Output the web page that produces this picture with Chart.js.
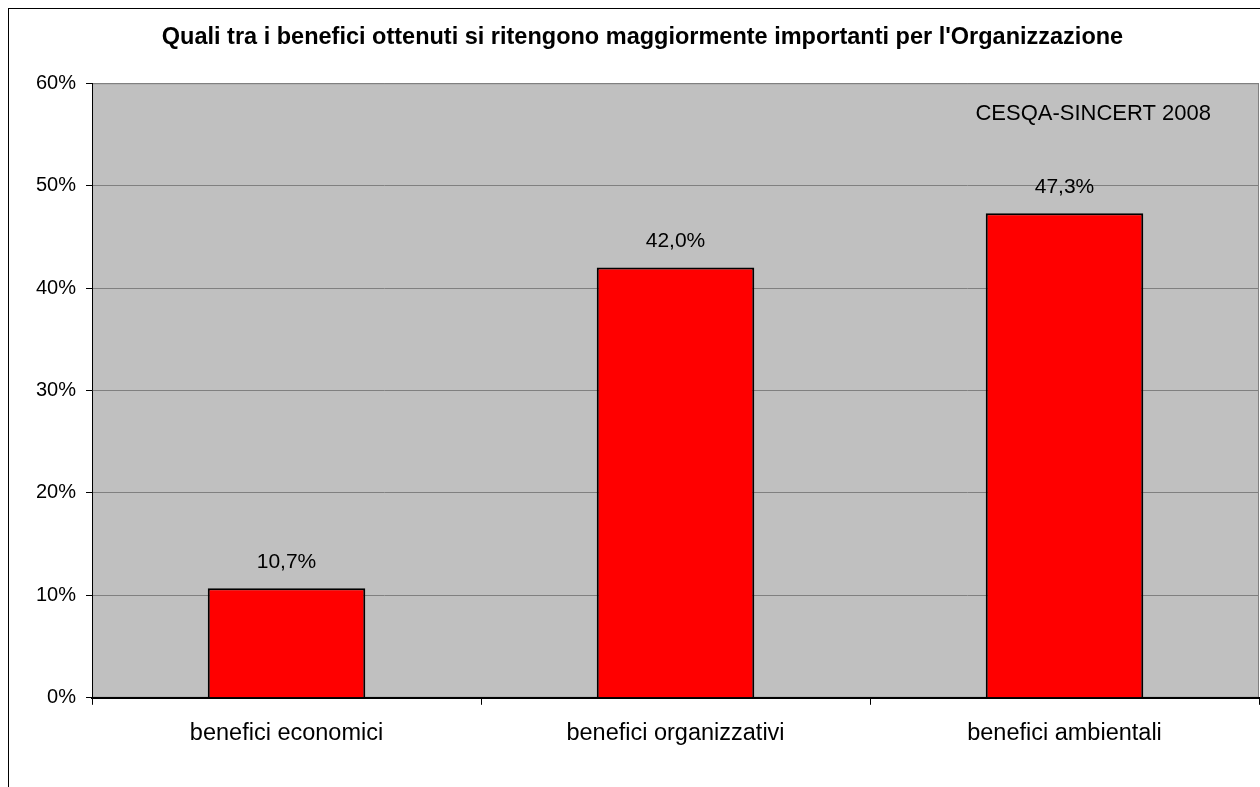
<!DOCTYPE html>
<html>
<head>
<meta charset="utf-8">
<script src="https://cdn.jsdelivr.net/npm/chart.js@4"></script>
<style>
  body { margin: 0; background: #fff; }
  #wrap { width: 1260px; height: 787px; }
</style>
</head>
<body>
<div id="wrap"><canvas id="mygraph" width="1260" height="787"></canvas></div>
<script>
const categories = ["benefici economici", "benefici organizzativi", "benefici ambientali"];
const values = [10.7, 42.0, 47.3];
const yTicks = [0, 10, 20, 30, 40, 50, 60];
const chartTitle = "Quali tra i benefici ottenuti si ritengono maggiormente importanti per l'Organizzazione";
const sourceNote = "CESQA-SINCERT 2008";

const FONT = "'Liberation Sans', Arial, sans-serif";

// grey plot background + outer frame + source note
const decor = {
  id: "decor",
  beforeDraw(chart) {
    const c = chart.ctx, a = chart.chartArea;
    c.save();
    c.fillStyle = "#ffffff";
    c.fillRect(0, 0, chart.width, chart.height);
    c.strokeStyle = "#000000";
    c.lineWidth = 1;
    c.strokeRect(8.5, 8.5, chart.width + 20, chart.height + 20);
    c.fillStyle = "#c0c0c0";
    c.fillRect(a.left, a.top, a.right - a.left, a.bottom - a.top);
    c.strokeStyle = "#808080";
    c.strokeRect(a.left + 0.5, a.top + 0.5, a.right - a.left - 1, a.bottom - a.top - 1);
    c.restore();
  },
  afterDatasetsDraw(chart) {
    const c = chart.ctx, a = chart.chartArea;
    c.save();
    c.fillStyle = "#000";
    c.font = "22px " + FONT;
    c.textBaseline = "middle";
    c.textAlign = "right";
    c.fillText(sourceNote, a.right - 48, a.top + 31);
    // value labels over the bars
    c.font = "21px " + FONT;
    c.textAlign = "center";
    chart.getDatasetMeta(0).data.forEach((bar, i) => {
      c.fillText(values[i].toFixed(1).replace(".", ",") + "%", bar.x, bar.y - 26);
    });
    c.restore();
  }
};

new Chart(document.getElementById("mygraph"), {
  type: "bar",
  data: {
    labels: categories,
    datasets: [{
      data: values,
      backgroundColor: "#ff0000",
      borderColor: "#000000",
      borderWidth: 2,
      categoryPercentage: 1,
      barPercentage: 0.405
    }]
  },
  options: {
    responsive: false,
    animation: false,
    layout: { padding: { top: 0, left: 26, right: 1, bottom: 24 } },
    plugins: {
      legend: { display: false },
      tooltip: { enabled: false },
      title: {
        display: true,
        text: chartTitle,
        color: "#000",
        font: { family: FONT, size: 23.5, weight: "bold" },
        padding: { top: 23, bottom: 32 }
      }
    },
    scales: {
      x: {
        grid: { offset: true, drawOnChartArea: false, color: "#000", tickLength: 7, tickColor: "#000" },
        border: { color: "#000", width: 2 },
        ticks: { color: "#000", font: { family: FONT, size: 23.5 }, padding: 15, maxRotation: 0 }
      },
      y: {
        min: 0,
        max: 60,
        afterBuildTicks(scale) { scale.ticks = yTicks.map(v => ({ value: v })); },
        grid: { color: "#808080", tickLength: 6, tickColor: "#000" },
        border: { color: "#000", width: 1 },
        ticks: { color: "#000", font: { family: FONT, size: 20 }, padding: 10, callback: v => v + "%" }
      }
    }
  },
  plugins: [decor]
});
</script>
</body>
</html>
